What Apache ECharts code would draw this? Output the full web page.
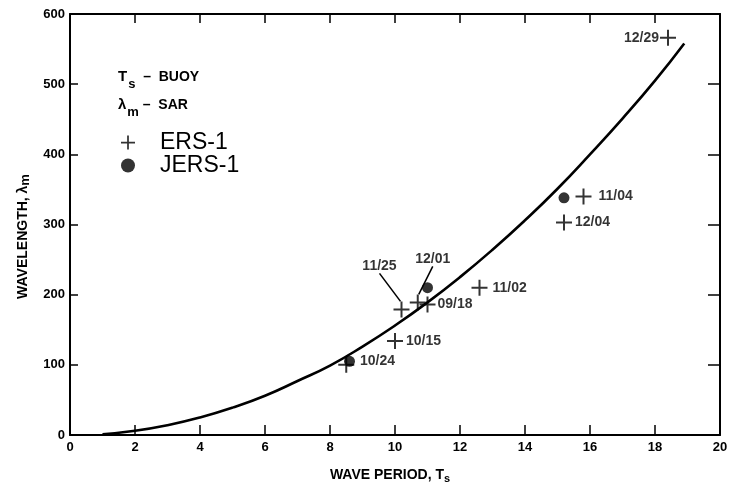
<!DOCTYPE html>
<html>
<head>
<meta charset="utf-8">
<script src="https://cdn.jsdelivr.net/npm/echarts@6/dist/echarts.min.js"></script>
<style>
html,body{margin:0;padding:0;background:#fff;}
#chart{width:734px;height:489px;}
</style>
</head>
<body>
<div id="chart"></div>
<script>
// ---- data ----
const ersPeriod = [18.4, 15.8, 15.2, 12.6, 11.0, 10.7, 10.2, 10.0, 8.5];
const ersWavelength = [566, 340, 303, 210, 186, 189, 179, 134, 100];
const ersDates = ['12/29', '11/04', '12/04', '11/02', '09/18', '12/01', '11/25', '10/15', ''];

const jersPeriod = [15.2, 11.0, 8.6];
const jersWavelength = [338, 210, 105];
const jersDates = ['', '', '10/24'];

const curvePeriod = [1, 2, 3, 4, 5, 6, 7, 8, 9, 10, 11, 12, 13, 14, 15, 16, 17, 18, 18.9];
const curveWavelength = [1, 6, 14, 25, 39, 56, 77, 99, 126, 156, 189, 225, 264, 306, 351, 400, 451, 505, 558];

const xTicks = [0, 2, 4, 6, 8, 10, 12, 14, 16, 18, 20];
const yTicks = [0, 100, 200, 300, 400, 500, 600];

// ---- styling (kept separate from data) ----
const FONT = "'Liberation Sans Narrow', 'Liberation Sans', Arial, sans-serif";
const PLUS = 'path://M0,7H16V9H0Z M7,0H9V16H7Z';
const labelPlacement = {
  '12/29': {position: 'left', distance: 1},
  '11/04': {position: 'right', distance: 7},
  '12/04': {position: 'right', distance: 3, offset: [0, -2]},
  '11/02': {position: 'right', distance: 5},
  '09/18': {position: 'right', distance: 2, offset: [0, 12]},
  '12/01': {position: 'top', distance: 5},
  '11/25': {position: 'top', distance: 5},
  '10/15': {position: 'right', distance: 3},
  '10/24': {position: 'right', distance: 5, offset: [0, 4]}
};
const leaderShift = {
  '12/01': {dx: 15, dy: -23},
  '11/25': {dx: -22, dy: -23}
};

function buildPoints(xs, ys, names) {
  return xs.map(function (x, i) {
    const n = names[i];
    const item = {value: [x, ys[i]], name: n};
    if (n) {
      const p = labelPlacement[n] || {position: 'right'};
      item.label = Object.assign({show: true}, p);
      if (leaderShift[n]) {
        item.labelLine = {show: true, lineStyle: {color: '#000', width: 1.5}};
      }
    } else {
      item.label = {show: false};
    }
    return item;
  });
}

const labelCommon = {
  show: true,
  formatter: function (p) { return p.name; },
  color: '#000',
  fontFamily: FONT,
  fontWeight: 'bold',
  fontSize: 14
};

function layoutFn(params) {
  const names = params.seriesIndex === 1 ? ersDates : (params.seriesIndex === 2 ? jersDates : null);
  if (!names) return;
  const n = names[params.dataIndex];
  if (n && leaderShift[n]) return leaderShift[n];
}

const axisTextStyle = {color: '#000', fontFamily: FONT, fontWeight: 'bold', fontSize: 13};
const lineStyleAxis = {color: '#000', width: 2};
const tickStyle = {color: '#000', width: 1.5};

const chart = echarts.init(document.getElementById('chart'), null, {renderer: 'canvas'});
chart.setOption({
  backgroundColor: '#fff',
  animation: false,
  title: {
    left: 113, top: 58,
    text: '{t|T}{s|s}{b|  –  BUOY}\n{t|λ}{s|m}{b| –  SAR}',
    textStyle: {
      lineHeight: 28,
      rich: {
        t: {fontFamily: FONT, fontWeight: 'bold', fontSize: 15, color: '#000', lineHeight: 28},
        s: {fontFamily: FONT, fontWeight: 'bold', fontSize: 13, color: '#000', verticalAlign: 'bottom', padding: [8, 0, 0, 1], lineHeight: 28},
        b: {fontFamily: FONT, fontWeight: 'bold', fontSize: 14, color: '#000', lineHeight: 28}
      }
    }
  },
  legend: {
    orient: 'vertical',
    left: 116, top: 126,
    itemWidth: 14, itemHeight: 14,
    itemGap: 0,
    data: [
      {name: 'ERS-1', icon: PLUS},
      {name: 'JERS-1', icon: 'circle'}
    ],
    textStyle: {color: '#000', fontFamily: "'Liberation Sans', Arial, sans-serif", fontSize: 23, padding: [0, 0, 0, 20]}
  },
  grid: {left: 70, right: 14, top: 14, bottom: 53, containLabel: false},
  xAxis: [
    {
      type: 'value', position: 'bottom', min: xTicks[0], max: xTicks[xTicks.length - 1], interval: xTicks[1] - xTicks[0],
      axisLine: {show: true, onZero: false, lineStyle: lineStyleAxis},
      axisTick: {show: true, inside: true, length: 10, lineStyle: tickStyle},
      axisLabel: Object.assign({margin: 6}, axisTextStyle),
      splitLine: {show: false},
      name: '{n|WAVE PERIOD, T}{s|s}',
      nameLocation: 'middle', nameGap: 32,
      nameTextStyle: {
        padding: [0, 10, 0, 0],
        rich: {
          n: {fontFamily: FONT, fontWeight: 'bold', fontSize: 14, color: '#000'},
          s: {fontFamily: FONT, fontWeight: 'bold', fontSize: 11, color: '#000', padding: [6, 0, 0, 0]}
        }
      }
    },
    {
      type: 'value', position: 'top', min: xTicks[0], max: xTicks[xTicks.length - 1], interval: xTicks[1] - xTicks[0],
      axisLine: {show: true, onZero: false, lineStyle: lineStyleAxis},
      axisTick: {show: true, inside: true, length: 9, lineStyle: tickStyle},
      axisLabel: {show: false},
      splitLine: {show: false}
    }
  ],
  yAxis: [
    {
      type: 'value', position: 'left', min: yTicks[0], max: yTicks[yTicks.length - 1], interval: yTicks[1] - yTicks[0],
      axisLine: {show: true, onZero: false, lineStyle: lineStyleAxis},
      axisTick: {show: true, inside: true, length: 8, lineStyle: tickStyle},
      axisLabel: Object.assign({margin: 5}, axisTextStyle),
      splitLine: {show: false},
      name: '{n|WAVELENGTH, λ}{s|m}',
      nameLocation: 'middle', nameGap: 31,
      nameTextStyle: {
        padding: [0, 24, 0, 0],
        rich: {
          n: {fontFamily: FONT, fontWeight: 'bold', fontSize: 14, color: '#000'},
          s: {fontFamily: FONT, fontWeight: 'bold', fontSize: 13, color: '#000', padding: [5, 0, 0, 0]}
        }
      }
    },
    {
      type: 'value', position: 'right', min: yTicks[0], max: yTicks[yTicks.length - 1], interval: yTicks[1] - yTicks[0],
      axisLine: {show: true, onZero: false, lineStyle: lineStyleAxis},
      axisTick: {show: true, inside: true, length: 12, lineStyle: tickStyle},
      axisLabel: {show: false},
      splitLine: {show: false}
    }
  ],
  series: [
    {
      name: 'curve', type: 'line', xAxisIndex: 0, yAxisIndex: 0,
      data: curvePeriod.map(function (t, i) { return [t, curveWavelength[i]]; }),
      smooth: true, showSymbol: false, symbol: 'none',
      lineStyle: {color: '#000', width: 2.6},
      silent: true, z: 2
    },
    {
      name: 'ERS-1', type: 'scatter', xAxisIndex: 0, yAxisIndex: 0,
      symbol: PLUS, symbolSize: 16,
      itemStyle: {color: '#000'},
      label: labelCommon,
      labelLayout: layoutFn,
      data: buildPoints(ersPeriod, ersWavelength, ersDates), z: 3
    },
    {
      name: 'JERS-1', type: 'scatter', xAxisIndex: 0, yAxisIndex: 0,
      symbol: 'circle', symbolSize: 11,
      itemStyle: {color: '#000'},
      label: labelCommon,
      labelLayout: layoutFn,
      data: buildPoints(jersPeriod, jersWavelength, jersDates), z: 3
    }
  ]
});
</script>
</body>
</html>
